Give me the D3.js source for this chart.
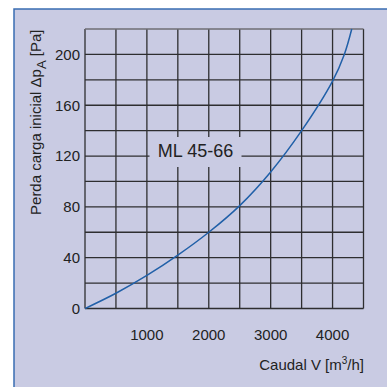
<!DOCTYPE html>
<html>
<head>
<meta charset="utf-8">
<script src="https://cdn.jsdelivr.net/npm/d3@7"></script>
<style>
  body { margin: 0; background: #fff; }
  text { font-family: "Liberation Sans", Arial, sans-serif; fill: #222; }
</style>
</head>
<body>
<script>
// curve: flow (m3/h) vs. initial pressure drop (Pa)
var flow     = [0, 500, 1000, 1500, 2000, 2500, 3000, 3500, 4000, 4190, 4310];
var pressure = [0, 12, 26, 42, 60, 81, 107.5, 140, 179, 200, 220];

var xTicks = [1000, 2000, 3000, 4000];
var yTicks = [0, 40, 80, 120, 160, 200];
var xGrid = d3.range(0, 4501, 500);
var yGrid = d3.range(0, 221, 20);
var seriesName = "ML 45-66";

var W = 387, H = 387;
var margin = {top: 29, right: 23.5, bottom: 78.5, left: 85},
    width = W - margin.left - margin.right,
    height = H - margin.top - margin.bottom;

var x = d3.scaleLinear().domain([0, 4500]).range([0, width]);
var y = d3.scaleLinear().domain([0, 220]).range([height, 0]);

var svg = d3.select("body").append("svg")
    .attr("width", W)
    .attr("height", H);

// panel
svg.append("rect")
    .attr("x", 14).attr("y", 9)
    .attr("width", W - 14).attr("height", H - 9)
    .attr("fill", "#c9cbe3");
svg.append("path")
    .attr("d", "M14," + H + "V9H" + W)
    .attr("fill", "none")
    .attr("stroke", "#3a6db3")
    .attr("stroke-width", 1.5);

var g = svg.append("g")
    .attr("transform", "translate(" + margin.left + "," + margin.top + ")");

// grid
g.selectAll(".vgrid")
    .data(xGrid)
    .enter().append("line")
    .attr("class", "vgrid")
    .attr("x1", function(d) { return x(d); })
    .attr("x2", function(d) { return x(d); })
    .attr("y1", 0).attr("y2", height)
    .attr("stroke", "#2e2e30")
    .attr("stroke-width", 1.3);

g.selectAll(".hgrid")
    .data(yGrid)
    .enter().append("line")
    .attr("class", "hgrid")
    .attr("x1", 0).attr("x2", width)
    .attr("y1", function(d) { return y(d); })
    .attr("y2", function(d) { return y(d); })
    .attr("stroke", function(d) { return d == 220 ? "#6e6e74" : "#2e2e30"; })
    .attr("stroke-width", 1.3);

// curve
g.append("clipPath").attr("id", "clip")
    .append("rect").attr("width", width).attr("height", height + 2).attr("y", -1);

var line = d3.line()
    .x(function(d) { return x(d[0]); })
    .y(function(d) { return y(d[1]); })
    .curve(d3.curveCatmullRom.alpha(0.5));

g.append("path")
    .datum(d3.zip(flow, pressure))
    .attr("clip-path", "url(#clip)")
    .attr("d", line)
    .attr("fill", "none")
    .attr("stroke", "#2160a8")
    .attr("stroke-width", 1.5);

// series label with a patch that hides the grid behind it
var lx = 195.5 - margin.left, ly = 155 - margin.top;
g.append("rect")
    .attr("x", lx - 46).attr("y", ly - 18)
    .attr("width", 92).attr("height", 30)
    .attr("fill", "#c9cbe3");
g.append("text")
    .attr("x", lx).attr("y", ly + 2)
    .attr("text-anchor", "middle")
    .style("font-size", "18px")
    .text(seriesName);

// tick labels
g.selectAll(".ylab")
    .data(yTicks)
    .enter().append("text")
    .attr("class", "ylab")
    .attr("x", -5)
    .attr("y", function(d) { return y(d); })
    .attr("dy", "0.36em")
    .attr("text-anchor", "end")
    .style("font-size", "15px")
    .text(function(d) { return d; });

g.selectAll(".xlab")
    .data(xTicks)
    .enter().append("text")
    .attr("class", "xlab")
    .attr("x", function(d) { return x(d); })
    .attr("y", height + 31)
    .attr("text-anchor", "middle")
    .style("font-size", "15px")
    .text(function(d) { return d; });

// axis titles
var xt = svg.append("text")
    .attr("x", 364)
    .attr("y", 370)
    .attr("text-anchor", "end")
    .style("font-size", "15px");
xt.append("tspan").text("Caudal V [m");
xt.append("tspan").attr("dy", -6).style("font-size", "10px").text("3");
xt.append("tspan").attr("dy", 6).text("/h]");

var yt = svg.append("text")
    .attr("transform", "translate(41,29.5) rotate(-90)")
    .attr("text-anchor", "end")
    .style("font-size", "15px");
yt.append("tspan").text("Perda carga inicial  \u0394p");
yt.append("tspan").attr("dy", 5).style("font-size", "13px").text("A");
yt.append("tspan").attr("dy", -5).text(" [Pa]");
</script>
</body>
</html>
